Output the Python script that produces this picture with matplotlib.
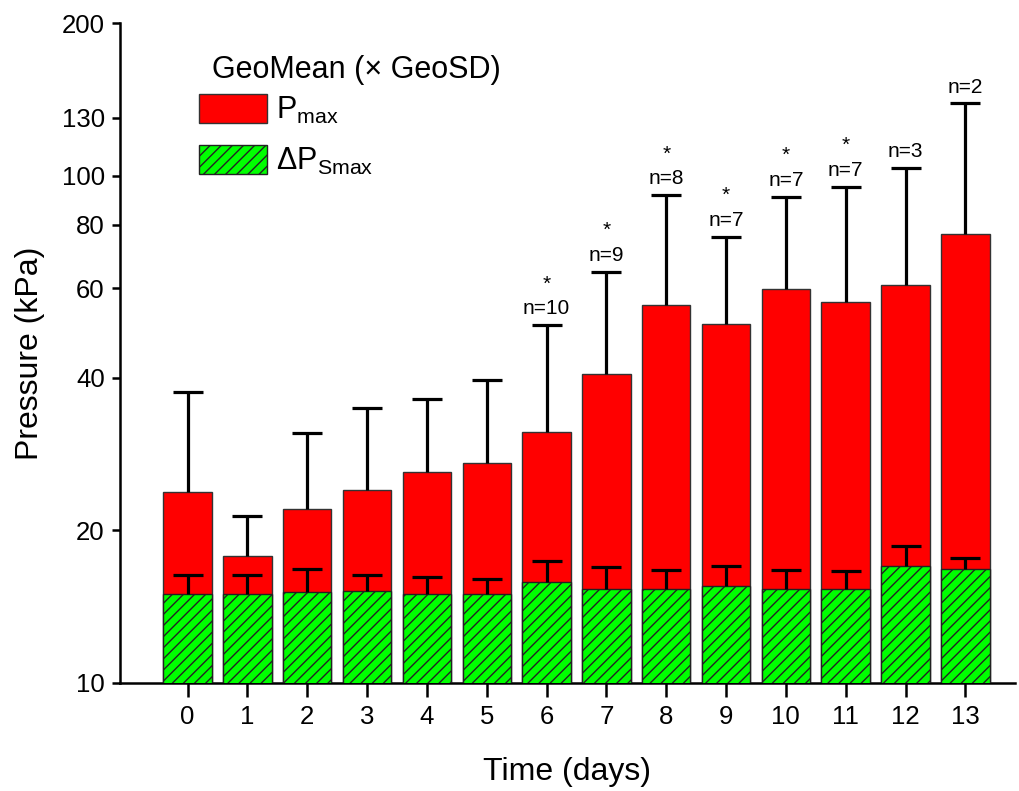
import numpy as np
import matplotlib.pyplot as plt
from matplotlib.ticker import FixedLocator, FixedFormatter, NullLocator

plt.rcParams['font.family'] = ['Liberation Sans', 'DejaVu Sans']
plt.rcParams['mathtext.fontset'] = 'custom'
plt.rcParams['mathtext.rm'] = 'Liberation Sans'
plt.rcParams['hatch.linewidth'] = 1.0

# data (geometric means and upper GeoSD limits, kPa)
days = np.arange(14)
pmax = [23.8, 17.8, 22.0, 24.0, 26.0, 27.1, 31.2, 40.7, 55.6, 51.1, 59.8, 56.3, 61.0, 76.6]
pmax_hi = [37.4, 21.3, 31.1, 34.9, 36.3, 39.5, 50.7, 64.6, 91.5, 75.8, 90.9, 95.0, 103.7, 138.8]
dps = [15.0, 15.0, 15.1, 15.2, 15.0, 15.0, 15.8, 15.3, 15.3, 15.5, 15.3, 15.3, 17.0, 16.8]
dps_hi = [16.3, 16.3, 16.8, 16.3, 16.2, 16.0, 17.4, 16.9, 16.7, 17.0, 16.7, 16.6, 18.6, 17.6]
n_labels = ['', '', '', '', '', '', 'n=10', 'n=9', 'n=8', 'n=7', 'n=7', 'n=7', 'n=3', 'n=2']
signif = [False] * 6 + [True] * 6 + [False, False]

yticks = [10, 20, 40, 60, 80, 100, 130, 200]

fig = plt.figure(figsize=(10.2, 7.91), dpi=100)
ax = fig.add_axes([120 / 1020, 108 / 791, 895 / 1020, 660 / 791])

pmax = np.array(pmax)
dps = np.array(dps)
up1 = np.array(pmax_hi) - pmax
up2 = np.array(dps_hi) - dps

w = 0.81
ax.bar(days, pmax, width=w, color='#ff0000', edgecolor='#333333', linewidth=1,
       log=True, label=r'P$_{\mathrm{max}}$', zorder=2)
eb1 = ax.errorbar(days, pmax, yerr=[np.zeros(14), up1], fmt='none', ecolor='black',
                  elinewidth=2.3, capsize=10.5, capthick=2.3, zorder=3)
ax.bar(days, dps, width=w, color='#00ff00', edgecolor='#222222', linewidth=1,
       hatch='///', log=True, label='ΔP$_{\\mathrm{Smax}}$', zorder=4)
eb2 = ax.errorbar(days, dps, yerr=[np.zeros(14), up2], fmt='none', ecolor='black',
                  elinewidth=2.3, capsize=10.5, capthick=2.3, zorder=5)
# only the upper caps are shown
eb1[1][0].set_visible(False)
eb2[1][0].set_visible(False)

# sample sizes and significance markers above the error bars
for d, top, lab, s in zip(days, pmax_hi, n_labels, signif):
    if lab:
        ax.annotate(lab, (d, top), xytext=(0, 5), textcoords='offset points',
                    ha='center', va='bottom', fontsize=15)
    if s:
        ax.annotate('*', (d, top), xytext=(0, 23), textcoords='offset points',
                    ha='center', va='bottom', fontsize=15)

ax.set_yscale('log')
ax.set_ylim(10, 200)
ax.set_xlim(-1.13, 13.83)
ax.yaxis.set_major_locator(FixedLocator(yticks))
ax.yaxis.set_major_formatter(FixedFormatter([str(t) for t in yticks]))
ax.yaxis.set_minor_locator(NullLocator())
ax.set_xticks(days)

for side in ['top', 'right']:
    ax.spines[side].set_visible(False)
for side in ['left', 'bottom']:
    ax.spines[side].set_linewidth(1.8)
ax.tick_params(axis='y', direction='out', length=6, width=1.8, labelsize=18.5, pad=5)
ax.tick_params(axis='x', direction='out', length=10, width=1.8, labelsize=18.5, pad=6)

ax.set_xlabel('Time (days)', fontsize=23, labelpad=20)
ax.set_ylabel('Pressure (kPa)', fontsize=23, labelpad=12)

ax.text(0.1028, 0.9167, 'GeoMean (× GeoSD)', transform=ax.transAxes,
        fontsize=22, ha='left', va='baseline')
ax.legend(loc='upper left', bbox_to_anchor=(0.0883, 0.893), frameon=False,
          fontsize=22, handlelength=2.22, handleheight=1.1, handletextpad=0.3,
          labelspacing=0.62, borderpad=0, borderaxespad=0)

fig.savefig('out.png', dpi=100)
